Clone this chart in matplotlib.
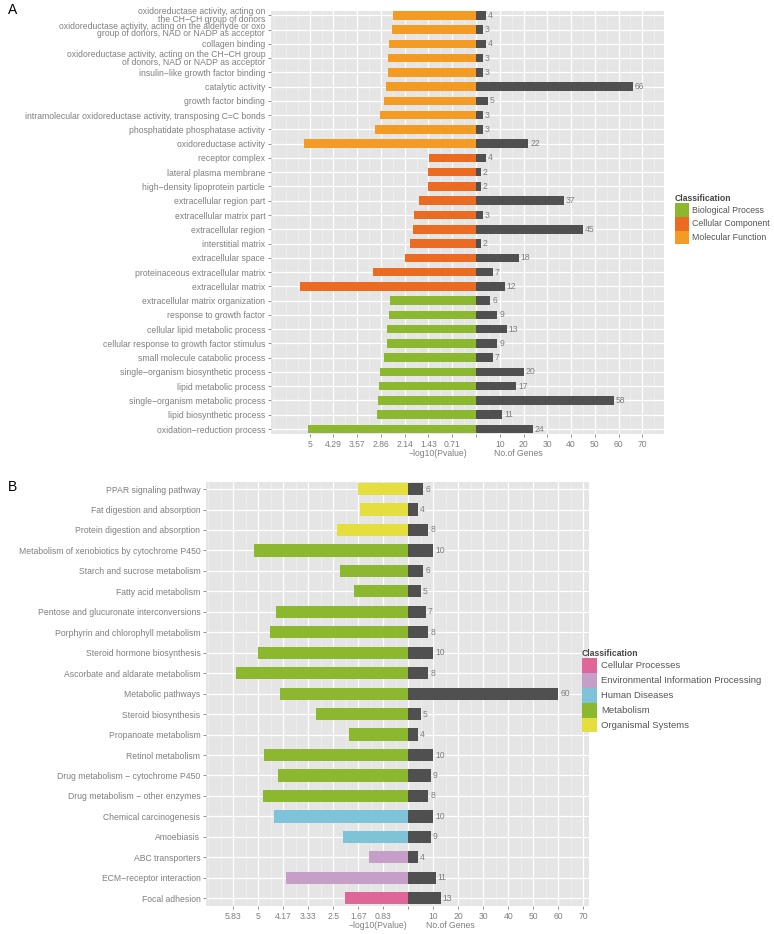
import matplotlib
matplotlib.use("Agg")
import matplotlib.pyplot as plt
from matplotlib.patches import Patch
import numpy as np

plt.rcParams['font.family'] = ['Liberation Sans', 'DejaVu Sans']

# ---- panel A: GO terms (top to bottom) ----
go_terms = [
    "oxidoreductase activity, acting on\nthe CH\u2212CH group of donors",
    "oxidoreductase activity, acting on the aldehyde or oxo\ngroup of donors, NAD or NADP as acceptor",
    "collagen binding",
    "oxidoreductase activity, acting on the CH\u2212CH group\nof donors, NAD or NADP as acceptor",
    "insulin\u2212like growth factor binding",
    "catalytic activity",
    "growth factor binding",
    "intramolecular oxidoreductase activity, transposing C=C bonds",
    "phosphatidate phosphatase activity",
    "oxidoreductase activity",
    "receptor complex",
    "lateral plasma membrane",
    "high\u2212density lipoprotein particle",
    "extracellular region part",
    "extracellular matrix part",
    "extracellular region",
    "interstitial matrix",
    "extracellular space",
    "proteinaceous extracellular matrix",
    "extracellular matrix",
    "extracellular matrix organization",
    "response to growth factor",
    "cellular lipid metabolic process",
    "cellular response to growth factor stimulus",
    "small molecule catabolic process",
    "single\u2212organism biosynthetic process",
    "lipid metabolic process",
    "single\u2212organism metabolic process",
    "lipid biosynthetic process",
    "oxidation\u2212reduction process",
]
go_class = ["Molecular Function"] * 10 + ["Cellular Component"] * 10 + ["Biological Process"] * 10
go_pval = [2.49, 2.53, 2.62, 2.65, 2.65, 2.71, 2.77, 2.89, 3.04, 5.17,
           1.40, 1.45, 1.45, 1.71, 1.86, 1.90, 1.99, 2.13, 3.10, 5.28,
           2.59, 2.62, 2.67, 2.69, 2.77, 2.89, 2.91, 2.95, 2.99, 5.04]
go_genes = [4, 3, 4, 3, 3, 66, 5, 3, 3, 22,
            4, 2, 2, 37, 3, 45, 2, 18, 7, 12,
            6, 9, 13, 9, 7, 20, 17, 58, 11, 24]
go_levels = ["Biological Process", "Cellular Component", "Molecular Function"]
go_colors = ["#8BB82E", "#EC6B23", "#F39B22"]

# ---- panel B: KEGG pathways (top to bottom) ----
kegg_terms = [
    "PPAR signaling pathway", "Fat digestion and absorption",
    "Protein digestion and absorption",
    "Metabolism of xenobiotics by cytochrome P450",
    "Starch and sucrose metabolism", "Fatty acid metabolism",
    "Pentose and glucuronate interconversions",
    "Porphyrin and chlorophyll metabolism", "Steroid hormone biosynthesis",
    "Ascorbate and aldarate metabolism", "Metabolic pathways",
    "Steroid biosynthesis", "Propanoate metabolism", "Retinol metabolism",
    "Drug metabolism \u2212 cytochrome P450", "Drug metabolism \u2212 other enzymes",
    "Chemical carcinogenesis", "Amoebiasis", "ABC transporters",
    "ECM\u2212receptor interaction", "Focal adhesion",
]
kegg_class = (["Organismal Systems"] * 3 + ["Metabolism"] * 13 + ["Human Diseases"] * 2
              + ["Environmental Information Processing"] * 2 + ["Cellular Processes"])
kegg_pval = [1.68, 1.61, 2.37, 5.13, 2.28, 1.81, 4.40, 4.60, 5.00, 5.75, 4.29,
             3.08, 1.97, 4.81, 4.35, 4.84, 4.47, 2.17, 1.31, 4.08, 2.11]
kegg_genes = [6, 4, 8, 10, 6, 5, 7, 8, 10, 8, 60, 5, 4, 10, 9, 8, 10, 9, 4, 11, 13]
kegg_levels = ["Cellular Processes", "Environmental Information Processing",
               "Human Diseases", "Metabolism", "Organismal Systems"]
kegg_colors = ["#DE6698", "#C59FC7", "#7EC3D8", "#8BB82E", "#E4DF3F"]

GREY = "#7F7F7F"
W, H = 774, 934
FS = 6.2


def panel(ax, terms, cls, pval, genes, levels, colors, scale, xlim, ylim_pad):
    n = len(terms)
    y = np.arange(n)
    cmap = dict(zip(levels, colors))
    ax.set_facecolor("#E5E5E5")
    for s in ax.spines.values():
        s.set_visible(False)
    ax.barh(y, -np.array(pval) * scale, height=0.6,
            color=[cmap[c] for c in cls], zorder=3)
    ax.barh(y, genes, height=0.6, color="#505050", zorder=3)
    for yi, g in zip(y, genes):
        ax.text(g + 0.8, yi, str(g), va="center", ha="left",
                fontsize=FS, color=GREY, zorder=4)
    ticks = np.arange(-70, 71, 10)
    labels = []
    for t in ticks:
        if t < 0:
            labels.append(f"{-t / scale:.2f}".rstrip("0").rstrip("."))
        elif t == 0:
            labels.append("")
        else:
            labels.append(str(t))
    ax.set_xticks(ticks)
    ax.set_xticklabels(labels)
    ax.set_xticks(np.arange(-85, 80, 5), minor=True)
    ax.set_xlim(*xlim)
    ax.set_yticks(y)
    ax.set_yticklabels(terms, linespacing=0.85)
    ax.set_ylim(n - 1 + ylim_pad[1], -ylim_pad[0])
    ax.grid(True, which="major", color="white", lw=0.9, zorder=0)
    ax.grid(True, which="minor", axis="x", color="#F2F2F2", lw=0.45, zorder=0)
    ax.set_axisbelow(True)
    ax.tick_params(which="major", length=2.5, width=0.6, color=GREY,
                   labelcolor=GREY, labelsize=FS, pad=1.5)
    ax.tick_params(which="minor", length=0)
    return cmap


fig = plt.figure(figsize=(W / 100, H / 100), dpi=100)

# panel A
axA = fig.add_axes([270.7 / W, 1 - 434 / H, (664 - 270.7) / W, (434 - 11) / H])
cA = panel(axA, go_terms, go_class, go_pval, go_genes, go_levels, go_colors,
           14, (-86.4, 79.1), (0.3, 0.35))
axA.text(-16, -0.045, "\u2212log10(Pvalue)", transform=axA.get_xaxis_transform(),
         ha="center", va="center", fontsize=FS, color=GREY)
axA.text(17.7, -0.045, "No.of Genes", transform=axA.get_xaxis_transform(),
         ha="center", va="center", fontsize=FS, color=GREY)

# panel B
axB = fig.add_axes([206 / W, 1 - 906 / H, (589 - 206) / W, (906 - 482.3) / H])
cB = panel(axB, kegg_terms, kegg_class, kegg_pval, kegg_genes, kegg_levels, kegg_colors,
           12, (-80.9, 72.3), (0.33, 0.38))
axB.text(-12.1, -0.045, "\u2212log10(Pvalue)", transform=axB.get_xaxis_transform(),
         ha="center", va="center", fontsize=FS, color=GREY)
axB.text(16.7, -0.045, "No.of Genes", transform=axB.get_xaxis_transform(),
         ha="center", va="center", fontsize=FS, color=GREY)

fig.text(8 / W, 1 - 10 / H, "A", fontsize=10, va="center", ha="left")
fig.text(8 / W, 1 - 487 / H, "B", fontsize=10, va="center", ha="left")

# legends
for levels, cmap, anchor, fs in [(go_levels, cA, (675 / W, 1 - 194 / H), 6.3),
                                 (kegg_levels, cB, (582 / W, 1 - 649 / H), 6.8)]:
    handles = [Patch(facecolor=cmap[l], edgecolor="none") for l in levels]
    leg = fig.legend(handles, levels, loc="upper left", bbox_to_anchor=anchor,
                     frameon=False, title="Classification", fontsize=fs,
                     title_fontproperties={"weight": "bold", "size": 6.2},
                     alignment="left", handlelength=1.6, handleheight=2.05,
                     labelspacing=0.0, handletextpad=0.4, borderpad=0,
                     borderaxespad=0)
    for t in leg.get_texts():
        t.set_color("#555555")
    leg.get_title().set_color("#444444")

fig.savefig("out.png", dpi=100)
